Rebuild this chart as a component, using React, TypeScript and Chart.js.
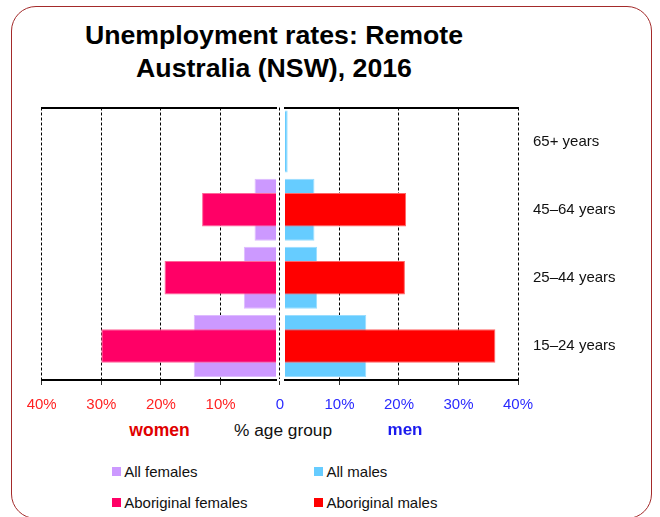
import React, { useEffect, useRef } from 'react';
import { Chart, registerables } from 'chart.js';

Chart.register(...registerables);

// ---- data ----
const ageGroups = ['65+ years', '45–64 years', '25–44 years', '15–24 years'];
const allFemales = [0, 4.3, 6.1, 14.5];
const aboriginalFemales = [0, 13.1, 19.4, 30.0];
const allMales = [1.3, 5.8, 6.25, 14.5];
const aboriginalMales = [0, 21.2, 21.0, 36.2];
const tickValues = [0, 10, 20, 30, 40];
const seriesNames = ['All females', 'All males', 'Aboriginal females', 'Aboriginal males'];

// ---- styles ----
const FONT = '"Liberation Sans", Arial, Helvetica, sans-serif';
const COLORS: Record<string, string> = {
  'All females': '#cc99ff',
  'Aboriginal females': '#ff0066',
  'All males': '#66ccff',
  'Aboriginal males': '#ff0000',
};
const BORDERS: Record<string, string> = {
  'All females': '#ddbbff',
  'Aboriginal females': '#ff6699',
  'All males': '#99ddff',
  'Aboriginal males': '#ff6666',
};

function makeConfig(isLeft: boolean): any {
  const allName = isLeft ? 'All females' : 'All males';
  const abName = isLeft ? 'Aboriginal females' : 'Aboriginal males';
  return {
    type: 'bar',
    data: {
      labels: ageGroups,
      datasets: [
        {
          label: abName,
          data: isLeft ? aboriginalFemales : aboriginalMales,
          backgroundColor: COLORS[abName],
          borderColor: BORDERS[abName],
          borderWidth: 1,
          barPercentage: 0.49,
          categoryPercentage: 1,
          grouped: false,
          clip: 0,
          order: 0,
        },
        {
          label: allName,
          data: isLeft ? allFemales : allMales,
          backgroundColor: COLORS[allName],
          borderColor: BORDERS[allName],
          borderWidth: 1,
          barPercentage: 0.91,
          categoryPercentage: 1,
          grouped: false,
          clip: 0,
          order: 1,
        },
      ],
    },
    options: {
      indexAxis: 'y',
      animation: false,
      responsive: false,
      maintainAspectRatio: false,
      events: [],
      layout: {
        padding: isLeft
          ? { left: 41.7, right: 14, top: 107.5, bottom: 0 }
          : { left: 25, right: 22, top: 107.5, bottom: 0 },
      },
      plugins: {
        legend: { display: false },
        tooltip: { enabled: false },
        title: { display: false },
      },
      scales: {
        x: {
          type: 'linear',
          position: 'bottom',
          reverse: isLeft,
          min: isLeft ? 0.7 : 0.85,
          max: 40,
          bounds: 'data',
          afterBuildTicks: (s: any) => {
            s.ticks = tickValues
              .filter((v) => (isLeft ? v > 0 : true))
              .map((v) => ({ value: v }));
          },
          ticks: {
            includeBounds: false,
            autoSkip: false,
            maxRotation: 0,
            stepSize: 10,
            color: isLeft ? '#ff2222' : '#2a2aff',
            font: { family: FONT, size: 15 },
            padding: 11,
            callback: (v: any) => (Number(v) === 0 ? '0' : v + '%'),
          },
          grid: {
            display: true,
            color: '#000',
            lineWidth: 1,
            drawTicks: true,
            tickLength: 5,
            tickColor: '#333',
            tickWidth: 1,
          },
          border: { display: true, color: '#000', width: 2, dash: [3, 2] },
          afterFit: (s: any) => {
            s.height = 40;
          },
        },
        xTop: {
          type: 'linear',
          axis: 'x',
          position: 'top',
          display: true,
          ticks: { display: false },
          grid: { display: false, drawTicks: false },
          border: { display: true, color: '#000', width: 2 },
          afterFit: (s: any) => {
            s.height = 0;
          },
        },
        y: {
          type: 'category',
          position: isLeft ? 'left' : 'right',
          display: !isLeft,
          grid: { display: false, drawTicks: false },
          border: { display: false },
          ticks: {
            color: '#111',
            font: { family: FONT, size: 15 },
            padding: 15,
          },
          afterFit: (s: any) => {
            if (!isLeft) s.width = 120;
          },
        },
      },
    },
  };
}

function Panel({ isLeft, style }: { isLeft: boolean; style: React.CSSProperties }) {
  const ref = useRef<HTMLCanvasElement | null>(null);
  useEffect(() => {
    if (!ref.current) return;
    const chart = new Chart(ref.current, makeConfig(isLeft));
    return () => chart.destroy();
  }, [isLeft]);
  const w = isLeft ? 290 : 400;
  return (
    <canvas
      ref={ref}
      width={w}
      height={420}
      style={{ position: 'absolute', top: 0, width: w, height: 420, ...style }}
    />
  );
}

function LegendItem({ name, left, top }: { name: string; left: number; top: number }) {
  return (
    <div
      style={{
        position: 'absolute',
        left,
        top,
        height: 20,
        display: 'flex',
        alignItems: 'center',
        fontFamily: FONT,
        fontSize: 15,
        color: '#111',
        whiteSpace: 'nowrap',
      }}
    >
      <span style={{ display: 'inline-block', width: 9, height: 9, background: COLORS[name], marginRight: 3.5 }} />
      <span>{name}</span>
    </div>
  );
}

export default function App() {
  const legendPos = [
    { left: 111.7, top: 461 },
    { left: 314, top: 461 },
    { left: 111.7, top: 492 },
    { left: 314, top: 492 },
  ];
  return (
    <div
      style={{
        position: 'absolute',
        left: 0,
        top: 0,
        width: 660,
        height: 517,
        overflow: 'hidden',
        background: '#fff',
      }}
    >
      <div
        style={{
          position: 'absolute',
          left: 11,
          top: 6,
          width: 641,
          height: 513,
          border: '1.5px solid #a32a2a',
          borderRadius: 25,
          boxSizing: 'border-box',
        }}
      />
      <div
        style={{
          position: 'absolute',
          left: 0,
          top: 19,
          width: 548,
          textAlign: 'center',
          fontFamily: FONT,
          fontWeight: 'bold',
          fontSize: 26.7,
          lineHeight: '33px',
          color: '#000',
        }}
      >
        Unemployment rates: Remote
        <br />
        Australia (NSW), 2016
      </div>
      <Panel isLeft={true} style={{ left: 0 }} />
      <Panel isLeft={false} style={{ left: 260 }} />
      <div
        style={{
          position: 'absolute',
          left: 159.5,
          top: 420,
          transform: 'translateX(-50%)',
          fontFamily: FONT,
          fontWeight: 'bold',
          fontSize: 17.5,
          lineHeight: '20px',
          color: '#e00000',
          whiteSpace: 'nowrap',
        }}
      >
        women
      </div>
      <div
        style={{
          position: 'absolute',
          left: 283,
          top: 420,
          transform: 'translateX(-50%)',
          fontFamily: FONT,
          fontSize: 17.3,
          lineHeight: '20px',
          color: '#111',
          whiteSpace: 'nowrap',
        }}
      >
        % age group
      </div>
      <div
        style={{
          position: 'absolute',
          left: 405,
          top: 420,
          transform: 'translateX(-50%)',
          fontFamily: FONT,
          fontWeight: 'bold',
          fontSize: 17,
          lineHeight: '20px',
          color: '#1a1aee',
          whiteSpace: 'nowrap',
        }}
      >
        men
      </div>
      {seriesNames.map((n, i) => (
        <LegendItem key={n} name={n} left={legendPos[i].left} top={legendPos[i].top} />
      ))}
    </div>
  );
}
